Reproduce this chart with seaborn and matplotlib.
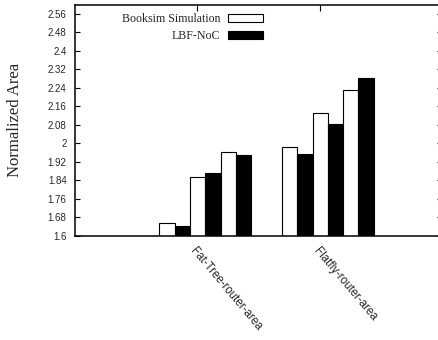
import matplotlib
matplotlib.use("Agg")
import matplotlib.pyplot as plt
from matplotlib.patches import Patch
from matplotlib.transforms import ScaledTranslation
import numpy as np
import pandas as pd
import seaborn as sns

# Router area normalized per topology, three configurations each
categories = ["Fat-Tree-router-area", "Flatfly-router-area"]
booksim_cfg1 = [1.658, 1.985]
lbf_cfg1 = [1.643, 1.956]
booksim_cfg2 = [1.856, 2.131]
lbf_cfg2 = [1.872, 2.086]
booksim_cfg3 = [1.964, 2.233]
lbf_cfg3 = [1.950, 2.285]

series_names = ["booksim-1", "lbf-1", "booksim-2", "lbf-2", "booksim-3", "lbf-3"]
series_values = [booksim_cfg1, lbf_cfg1, booksim_cfg2, lbf_cfg2, booksim_cfg3, lbf_cfg3]
legend_labels = ["Booksim Simulation", "LBF-NoC"]

y_ticks = [1.6, 1.68, 1.76, 1.84, 1.92, 2.0, 2.08, 2.16, 2.24, 2.32, 2.4, 2.48, 2.56]

rows = []
for name, vals in zip(series_names, series_values):
    for cat, v in zip(categories, vals):
        rows.append({"category": cat, "series": name, "value": v})
df = pd.DataFrame(rows)

sns.set_style("ticks")
plt.rcParams["font.family"] = ["Liberation Sans", "DejaVu Sans"]

W, H = 438, 340
fig = plt.figure(figsize=(W / 100, H / 100), dpi=100)
ax = fig.add_axes([75 / W, (H - 236) / H, (441.5 - 75) / W, (236 - 4.7) / H])

sns.barplot(
    data=df, x="category", y="value", hue="series",
    order=categories, hue_order=series_names,
    palette=["white", "black"] * 3, saturation=1,
    edgecolor="black", linewidth=0.8, width=0.75, gap=0,
    legend=False, ax=ax,
)

ax.set_ylim(1.6, 2.6)
ax.set_xlim(-1.064, 1.928)
ax.set_yticks(y_ticks)
ax.set_yticklabels([f"{t:g}" for t in y_ticks], fontsize=7)

tick_pos = [-0.065, 0.935]
ax.set_xticks(tick_pos)
ax.set_xticklabels(categories, rotation=-50, ha="left", va="top",
                   rotation_mode="anchor", fontsize=8.3)
# nudge the slanted labels slightly to the right of their ticks
shift = ScaledTranslation(3 / 100, 0, fig.dpi_scale_trans)
for lbl in ax.get_xticklabels():
    lbl.set_transform(lbl.get_transform() + shift)

ax.tick_params(axis="y", direction="in", left=True, right=True, length=3.3,
               width=0.8, pad=6, color="black")
ax.tick_params(axis="x", direction="in", bottom=False, top=True, length=4.5,
               width=0.8, pad=6.5, color="black")

for s in ax.spines.values():
    s.set_linewidth(1.1)
    s.set_color("black")
    s.set_visible(True)

ax.set_xlabel("")
ax.set_ylabel("Normalized Area", fontsize=12, family=["Liberation Serif"])
ax.yaxis.set_label_coords(-0.142, 0.5)

handles = [Patch(facecolor="white", edgecolor="black", linewidth=0.8),
           Patch(facecolor="black", edgecolor="black", linewidth=0.8)]
fig.legend(handles, legend_labels, loc="upper right",
           bbox_to_anchor=(263 / W, (H - 13) / H), bbox_transform=fig.transFigure,
           frameon=False, markerfirst=False, borderpad=0, borderaxespad=0,
           handlelength=2.9, handletextpad=0.7, labelspacing=0.42,
           prop={"family": "Liberation Serif", "size": 8.6})

fig.savefig("out.png", dpi=100)
